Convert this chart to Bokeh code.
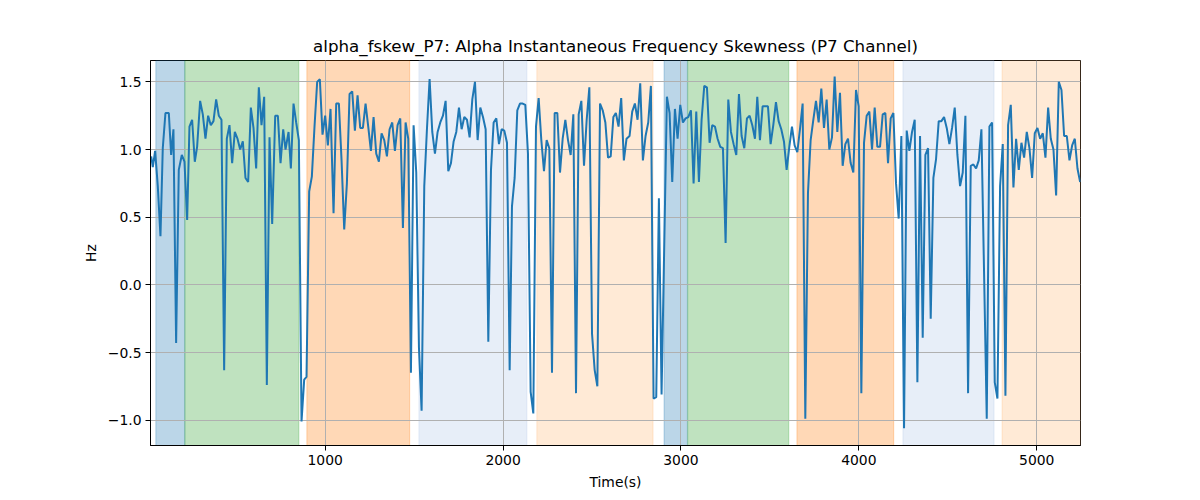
from bokeh.plotting import figure
from bokeh.models import ColumnDataSource, BoxAnnotation, Range1d, CustomJSTickFormatter
from bokeh.embed import file_html
from bokeh.resources import INLINE

# time stamps (s) and skewness values (Hz)
time_s = [
    22, 31, 44, 59, 74, 87, 102, 121, 134, 147, 162, 177, 194, 209, 224,
    237, 252, 267, 280, 297, 312, 327, 342, 357, 372, 387, 402, 417, 432, 447,
    462, 477, 492, 507, 522, 537, 552, 567, 582, 597, 612, 627, 642, 657, 672,
    687, 702, 719, 734, 749, 764, 777, 794, 807, 822, 837, 852, 867, 882, 895,
    910, 925, 940, 955, 970, 985, 1000, 1015, 1030, 1047, 1062, 1077, 1092, 1107, 1122,
    1137, 1152, 1167, 1182, 1197, 1212, 1227, 1242, 1257, 1272, 1287, 1302, 1317, 1332, 1347,
    1362, 1377, 1392, 1407, 1422, 1437, 1452, 1467, 1482, 1497, 1512, 1527, 1542, 1557, 1572,
    1587, 1602, 1617, 1632, 1647, 1662, 1677, 1692, 1707, 1722, 1737, 1752, 1767, 1782, 1797,
    1812, 1827, 1842, 1857, 1872, 1887, 1902, 1917, 1932, 1947, 1962, 1977, 1992, 2007, 2022,
    2037, 2050, 2065, 2080, 2095, 2110, 2125, 2140, 2155, 2170, 2185, 2200, 2215, 2230, 2245,
    2260, 2275, 2290, 2305, 2320, 2335, 2350, 2365, 2380, 2395, 2410, 2425, 2440, 2455, 2470,
    2485, 2500, 2515, 2530, 2545, 2560, 2575, 2590, 2605, 2620, 2634, 2649, 2664, 2679, 2694,
    2711, 2726, 2741, 2756, 2771, 2786, 2801, 2816, 2831, 2846, 2861, 2876, 2891, 2921, 2936,
    2951, 2966, 2981, 2996, 3011, 3026, 3041, 3056, 3071, 3086, 3101, 3116, 3131, 3146, 3161,
    3176, 3191, 3206, 3221, 3236, 3251, 3266, 3281, 3296, 3311, 3326, 3341, 3356, 3371,
    3386, 3401, 3416, 3429, 3444, 3459, 3474, 3489, 3504, 3519, 3534, 3549, 3564, 3579, 3594,
    3609, 3624, 3639, 3654, 3669, 3684, 3699, 3714, 3729, 3744, 3759, 3774, 3789, 3804, 3819,
    3834, 3849, 3864, 3879, 3894, 3909, 3924, 3939, 3954, 3969, 3984, 3999, 4014, 4029,
    4044, 4059, 4074, 4089, 4104, 4119, 4134, 4149, 4164, 4179, 4194, 4209, 4224, 4239, 4254,
    4269, 4284, 4299, 4314, 4329, 4344, 4359, 4374, 4389, 4404, 4419, 4434, 4449, 4464, 4479,
    4494, 4509, 4524, 4539, 4554, 4569, 4584, 4599, 4614, 4629, 4644, 4659, 4674, 4689,
    4719, 4734, 4749, 4764, 4779, 4794, 4809, 4824, 4839, 4854, 4869, 4884, 4899, 4914, 4929,
    4944, 4959, 4974, 4989, 5004, 5019, 5034, 5049, 5064, 5079, 5094, 5109, 5124, 5139, 5154,
    5169, 5184, 5199, 5214, 5229, 5244,
]
hz = [
    0.95, 0.87, 0.99, 0.73, 0.36, 1.01, 1.27, 1.27, 0.96, 1.15, -0.43, 0.85, 0.96, 0.91, 0.48,
    1.17, 1.22, 0.91, 1.02, 1.36, 1.26, 1.08, 1.25, 1.18, 1.21, 1.37, 1.25, 1.22, -0.63, 1.08,
    1.18, 0.90, 1.13, 1.08, 1.00, 1.06, 0.79, 0.76, 1.31, 1.16, 0.86, 1.46, 1.18, 1.39, -0.74,
    1.09, 0.45, 1.25, 1.25, 0.90, 1.15, 1.00, 1.13, 0.86, 1.34, 1.20, 1.07, -1.01, -0.70, -0.68,
    0.69, 0.80, 1.17, 1.50, 1.52, 1.11, 1.25, 1.03, 1.30, 0.53, 1.34, 1.34, 0.92, 0.41, 0.75,
    1.41, 1.43, 1.14, 1.40, 1.16, 1.16, 1.34, 1.17, 0.99, 1.24, 0.97, 0.91, 1.12, 1.07, 0.95,
    1.15, 1.20, 0.99, 1.18, 1.23, 0.42, 1.20, 1.08, -0.65, 1.18, 0.83, -0.46, -0.93, 0.73, 1.15,
    1.52, 1.13, 0.97, 1.13, 1.20, 1.25, 1.36, 0.84, 0.90, 1.06, 1.13, 1.31, 1.15, 1.24, 1.22,
    1.09, 1.37, 1.50, 1.07, 1.31, 1.24, 1.15, -0.42, 0.85, 1.20, 1.23, 1.04, 1.15, 1.14, 1.05,
    -0.63, 0.58, 0.79, 1.29, 1.34, 1.34, 1.33, 0.97, -0.79, -0.95, 1.17, 1.38, 1.07, 0.84, 1.07,
    1.01, -0.65, 1.27, 1.27, 0.83, 1.08, 1.22, 1.07, 0.96, 1.26, -0.80, 1.26, 1.36, 0.88, 1.22,
    1.46, -0.36, -0.63, -0.75, 1.34, 1.29, 1.20, 0.94, 0.95, 1.24, 1.27, 1.17, 1.38, 0.92, 1.08,
    1.10, 1.28, 1.34, 1.22, 1.49, 0.92, 1.10, 1.20, 1.47, -0.84, -0.83, 0.64, -0.81, 1.39, 1.27,
    0.76, 1.30, 1.08, 1.33, 1.20, 1.23, 1.24, 1.29, 0.75, 1.28, 0.76, 1.22, 1.47, 1.46, 1.05,
    1.18, 1.17, 1.08, 1.02, 1.01, 0.31, 1.37, 1.13, 1.04, 0.96, 1.41, 1.10, 1.01, 1.23,
    1.25, 1.18, 1.08, 1.39, 1.07, 1.32, 1.32, 1.32, 1.04, 1.18, 1.35, 1.21, 1.15, 1.06, 0.85,
    1.02, 1.17, 1.03, 0.98, 1.15, 1.34, -0.99, 0.68, 1.07, 1.22, 1.36, 1.20, 1.45, 1.16, 1.37,
    1.00, 1.09, 1.54, 1.13, 1.42, 0.88, 1.04, 1.08, 0.90, 0.83, 1.44, 1.32, -0.80, 1.05,
    1.25, 1.28, 1.00, 1.31, 1.02, 1.02, 1.26, 1.27, 0.90, 1.23, 1.27, 0.75, 0.49, 1.10, -1.06,
    1.14, 0.99, 1.13, 1.22, -0.72, 1.10, -0.39, 0.96, 1.01, -0.25, 0.79, 0.93, 1.21, 1.21, 1.24,
    1.16, 1.04, 1.16, 1.31, 0.96, 0.73, 0.83, 1.25, -0.80, 0.88, 0.89, 0.86, 0.92, 1.15,
    -0.99, 1.17, 1.20, -0.72, -0.84, 0.73, 1.04, -0.82, 1.18, 1.33, 0.72, 1.08, 0.85, 1.05, 0.94,
    1.13, 1.01, 0.79, 1.12, 1.16, 1.08, 1.12, 0.94, 1.31, 1.08, 1.00, 0.66, 1.50, 1.44, 1.10,
    1.10, 0.92, 1.03, 1.08, 0.86, 0.76,
]
assert len(time_s) == len(hz)

# shaded phases: start, end, colour
span_start = [48, 211, 897, 1527, 2190, 2905, 3038, 3652, 4248, 4805]
span_end = [211, 852, 1475, 2134, 2843, 3036, 3606, 4196, 4760, 5246]
span_color = ["#1f77b4", "#2ca02c", "#ff7f0e", "#aec7e8", "#ffbb78",
              "#1f77b4", "#2ca02c", "#ff7f0e", "#aec7e8", "#ffbb78"]

x_ticks = [1000, 2000, 3000, 4000, 5000]
y_ticks = [-1.0, -0.5, 0.0, 0.5, 1.0, 1.5]

FONT = "DejaVu Sans"

p = figure(width=1190, height=492, output_backend="svg", toolbar_location=None,
           title="alpha_fskew_P7: Alpha Instantaneous Frequency Skewness (P7 Channel)",
           x_range=Range1d(18, 5246), y_range=Range1d(-1.187, 1.658))
p.min_border_left = 150
p.min_border_right = 110
p.min_border_top = 60
p.min_border_bottom = 47
p.background_fill_color = "white"
p.border_fill_color = "white"
p.outline_line_color = "black"
p.outline_line_alpha = 1
p.outline_line_width = 1

p.title.text_font = FONT
p.title.text_font_size = "16.7px"
p.title.text_font_style = "normal"
p.title.align = "center"
p.title.text_color = "black"

for s, e, c in zip(span_start, span_end, span_color):
    p.add_layout(BoxAnnotation(left=s, right=e, fill_color=c, fill_alpha=0.3,
                               line_color=c, line_alpha=0.3, line_width=1, level="image"))

src = ColumnDataSource(data=dict(t=time_s, v=hz))
p.line("t", "v", source=src, line_color="#1f77b4", line_width=2)

p.xaxis.ticker = x_ticks
p.yaxis.ticker = y_ticks
p.xgrid.ticker = p.xaxis.ticker
p.ygrid.ticker = p.yaxis.ticker
p.yaxis.formatter = CustomJSTickFormatter(
    code='return (tick < 0 ? "\u2212" : "") + Math.abs(tick).toFixed(1);')

p.grid.grid_line_color = "#b0b0b0"
p.grid.grid_line_width = 1
p.grid.level = "underlay"

p.xaxis.axis_label = "Time(s)"
p.yaxis.axis_label = "Hz"
for ax in (p.xaxis, p.yaxis):
    ax.axis_label_text_font = FONT
    ax.axis_label_text_font_size = "13.9px"
    ax.axis_label_text_font_style = "normal"
    ax.axis_label_text_color = "black"
    ax.axis_label_standoff = 6
    ax.major_label_text_font = FONT
    ax.major_label_text_font_size = "13.9px"
    ax.major_label_text_color = "black"
    ax.major_label_standoff = 4
    ax.major_tick_in = 0
    ax.major_tick_out = 5
    ax.minor_tick_line_color = None
    ax.axis_line_color = "black"
    ax.major_tick_line_color = "black"

open("out.html", "w").write(file_html(p, INLINE))
